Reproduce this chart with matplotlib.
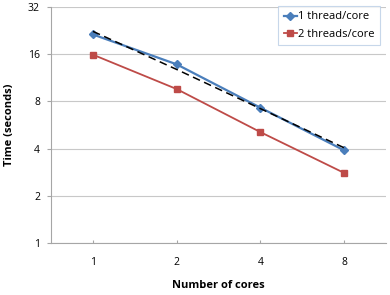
import matplotlib
matplotlib.use("Agg")
import matplotlib.pyplot as plt
from matplotlib.ticker import FixedLocator, NullLocator

cores = ["1", "2", "4", "8"]
one_thread = [21.4, 13.8, 7.3, 3.9]
two_threads = [15.9, 9.6, 5.1, 2.8]
trend = [22.4, 12.8, 7.2, 4.05]
y_ticks = [1, 2, 4, 8, 16, 32]

plt.rcParams['font.family'] = ['Open Sans', 'DejaVu Sans']

fig = plt.figure(figsize=(3.9, 2.95), dpi=100)
ax = fig.add_axes([0.131, 0.176, 0.859, 0.80])
x = list(range(len(cores)))

ax.plot(x, one_thread, color='#4A7EBB', marker='D', markersize=4, lw=1.6,
        label='1 thread/core', zorder=3)
ax.plot(x, two_threads, color='#BE4B48', marker='s', markersize=5, lw=1.3,
        label='2 threads/core', zorder=3)
ax.plot(x, trend, color='black', ls=(0, (5, 3)), lw=1.1, zorder=4)

ax.set_yscale('log', base=2)
ax.set_ylim(1, 32)
ax.set_xlim(-0.5, len(cores) - 0.5)
ax.yaxis.set_major_locator(FixedLocator(y_ticks))
ax.yaxis.set_minor_locator(NullLocator())
ax.set_yticklabels([str(v) for v in y_ticks])
ax.set_xticks(x)
ax.set_xticklabels(cores)

ax.grid(axis='y', color='#C8C8C8', lw=0.8)
ax.set_axisbelow(True)
for s in ['top', 'right']:
    ax.spines[s].set_visible(False)
for s in ['left', 'bottom']:
    ax.spines[s].set_color('#A6A6A6')
    ax.spines[s].set_linewidth(0.8)
ax.tick_params(axis='y', length=3, color='#A6A6A6', labelsize=7.5, pad=5)
ax.tick_params(axis='x', direction='in', length=2, color='#A6A6A6', labelsize=7.5, pad=10)

ax.set_xlabel('Number of cores', fontsize=8, fontweight='bold', labelpad=9)
ax.set_ylabel('Time (seconds)', fontsize=8, fontweight='bold', labelpad=9)

leg = fig.legend(loc='upper right', bbox_to_anchor=(0.975, 0.98), fontsize=8,
                 frameon=True, fancybox=False, handlelength=1.2, handletextpad=0.1,
                 borderpad=0.5, labelspacing=0.55, borderaxespad=0)
leg.get_frame().set_edgecolor('#B9CDE5')
leg.get_frame().set_linewidth(0.8)

fig.savefig('out.png', dpi=100)
